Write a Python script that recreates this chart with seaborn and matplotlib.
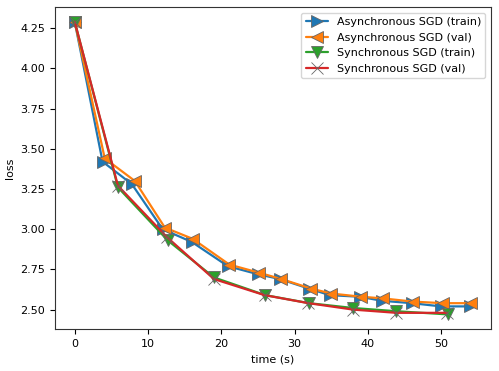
import matplotlib
matplotlib.use('Agg')
import matplotlib.pyplot as plt
import seaborn as sns

# values
async_train_t = [0, 3.8, 7.8, 12.0, 16.0, 20.9, 25.0, 28.0, 32.0, 34.8, 38.9, 41.9, 46.0, 50.0, 53.9]
async_train_loss = [4.29, 3.42, 3.28, 3.00, 2.92, 2.77, 2.72, 2.69, 2.63, 2.59, 2.58, 2.555, 2.54, 2.52, 2.52]
async_val_t = [0, 4.1, 8.2, 12.3, 16.1, 21.1, 25.1, 28.2, 32.3, 35.0, 39.1, 42.0, 46.1, 50.2, 54.1]
async_val_loss = [4.29, 3.44, 3.30, 3.01, 2.94, 2.78, 2.73, 2.69, 2.63, 2.60, 2.58, 2.57, 2.55, 2.54, 2.54]
sync_train_t = [0, 5.9, 12.7, 19.0, 26.0, 32.0, 38.0, 43.9, 51.0]
sync_train_loss = [4.29, 3.26, 2.93, 2.70, 2.59, 2.54, 2.51, 2.49, 2.47]
sync_val_t = [0, 5.9, 12.6, 19.0, 25.9, 31.9, 38.0, 43.9, 50.8]
sync_val_loss = [4.29, 3.27, 2.95, 2.69, 2.59, 2.54, 2.50, 2.48, 2.48]

series = [
    ('Asynchronous SGD (train)', async_train_t, async_train_loss, '>', 'tab:blue'),
    ('Asynchronous SGD (val)', async_val_t, async_val_loss, '<', 'tab:orange'),
    ('Synchronous SGD (train)', sync_train_t, sync_train_loss, 'v', 'tab:green'),
    ('Synchronous SGD (val)', sync_val_t, sync_val_loss, 'x', 'tab:red'),
]

sns.set_style('ticks')
plt.rcParams['font.size'] = 8
plt.rcParams['text.color'] = 'black'
plt.rcParams['axes.labelcolor'] = 'black'
plt.rcParams['xtick.color'] = 'black'
plt.rcParams['ytick.color'] = 'black'

fig, ax = plt.subplots(figsize=(4.99, 3.71), dpi=100)
for label, t, loss, m, c in series:
    sns.lineplot(x=t, y=loss, ax=ax, sort=False, label=label, color=c,
                 marker=m, markersize=8, markeredgecolor='0.4',
                 markeredgewidth=0.6, linewidth=1.6)

ax.set_xlabel('time (s)', fontsize=8)
ax.set_ylabel('loss', fontsize=8)
ax.tick_params(labelsize=8)
ax.legend(loc='upper right', fontsize=8)
for s in ax.spines.values():
    s.set_color('0.2')
fig.subplots_adjust(left=0.11, right=0.984, top=0.981, bottom=0.113)
fig.savefig('out.png')
